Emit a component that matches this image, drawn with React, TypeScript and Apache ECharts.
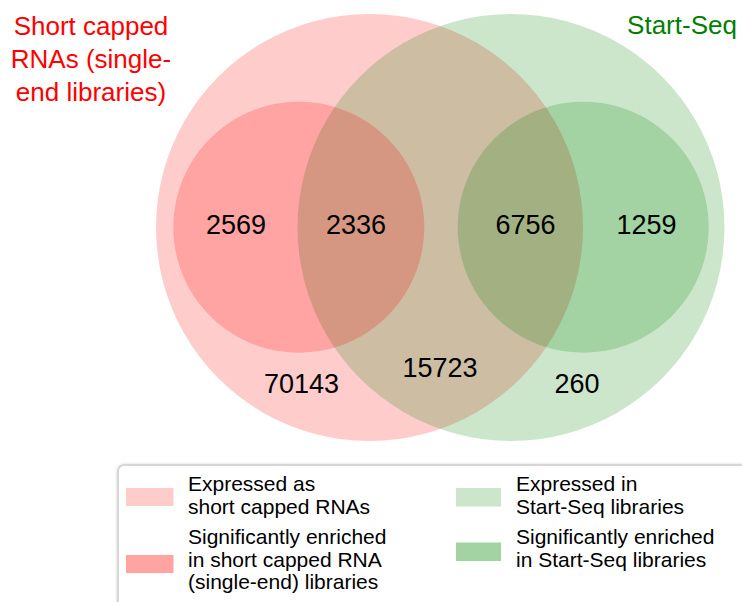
import React, { useEffect, useRef } from "react";
import * as echarts from "echarts";

// ---- data ----
const setNames = ["Short capped\nRNAs (single-\nend libraries)", "Start-Seq"];
const regionLabels = [
  "onlyRedEnriched",
  "redEnrichedShared",
  "greenEnrichedShared",
  "onlyGreenEnriched",
  "onlyRed",
  "shared",
  "onlyGreen",
];
const regionCounts = [2569, 2336, 6756, 1259, 70143, 15723, 260];
const legendLabels = [
  "Expressed as\nshort capped RNAs",
  "Significantly enriched\nin short capped RNA\n(single-end) libraries",
  "Expressed in\nStart-Seq libraries",
  "Significantly enriched\nin Start-Seq libraries",
];

// ---- layout / style ----
const FONT = "'Liberation Sans', Arial, sans-serif";
const RED = "rgba(255,0,0,0.2)";
const GREEN = "rgba(0,128,0,0.2)";
const circles = [
  { cx: 369.5, cy: 227.5, r: 213.5, fill: RED },
  { cx: 511, cy: 227.5, r: 213.5, fill: GREEN },
  { cx: 298.8, cy: 227.2, r: 125.5, fill: RED },
  { cx: 583.2, cy: 227.2, r: 125.5, fill: GREEN },
];
const regionPos = [
  [236, 225],
  [356, 225],
  [525.5, 225],
  [646.5, 225],
  [301.5, 384],
  [440, 368],
  [577, 384],
];
const legendSwatch = [
  { x: 126, y: 488, w: 47.5, h: 18, fill: "#FFCCCC" },
  { x: 126, y: 555, w: 47.5, h: 18, fill: "#FFA3A3" },
  { x: 456, y: 488, w: 45, h: 18.5, fill: "#CCE6CC" },
  { x: 456, y: 542.5, w: 45, h: 18.5, fill: "#A3D2A3" },
];
const legendTextPos = [
  [188, 483.5],
  [188, 536.5],
  [516, 483.5],
  [516, 536.5],
];

export default function App() {
  const ref = useRef<HTMLDivElement>(null);
  useEffect(() => {
    if (!ref.current) return;
    const chart = echarts.init(ref.current, null, { renderer: "svg" });
    const g: any[] = [];
    circles.forEach((c) =>
      g.push({
        type: "circle",
        shape: { cx: c.cx, cy: c.cy, r: c.r },
        style: { fill: c.fill },
        silent: true,
      })
    );
    regionCounts.forEach((v, i) =>
      g.push({
        type: "text",
        style: {
          text: String(v),
          x: regionPos[i][0],
          y: regionPos[i][1],
          fill: "#000",
          fontSize: 27,
          fontFamily: FONT,
          align: "center",
          textAlign: "center",
          verticalAlign: "middle",
          textVerticalAlign: "middle",
        },
        silent: true,
      })
    );
    // set titles
    setNames[0].split("\n").forEach((line, i) =>
      g.push({
        type: "text",
        style: {
          text: line,
          x: 91,
          y: 25.5 + i * 33,
          fill: "#FF0000",
          fontSize: 26,
          fontFamily: FONT,
          align: "center",
          textAlign: "center",
          verticalAlign: "middle",
          textVerticalAlign: "middle",
        },
      })
    );
    g.push({
      type: "text",
      style: {
        text: setNames[1],
        x: 682,
        y: 25,
        fill: "#008000",
        fontSize: 26,
        fontFamily: FONT,
        align: "center",
        textAlign: "center",
        verticalAlign: "middle",
        textVerticalAlign: "middle",
      },
    });
    // legend box
    g.push({
      type: "rect",
      shape: { x: 118, y: 465, width: 700, height: 200, r: 6 },
      style: {
        fill: "#fff",
        stroke: "#D6D6D6",
        lineWidth: 2,
        shadowBlur: 3,
        shadowColor: "rgba(0,0,0,0.15)",
      },
    });
    legendSwatch.forEach((s) =>
      g.push({
        type: "rect",
        shape: { x: s.x, y: s.y, width: s.w, height: s.h },
        style: { fill: s.fill },
      })
    );
    legendLabels.forEach((t, i) =>
      t.split("\n").forEach((line, j) =>
        g.push({
          type: "text",
          style: {
            text: line,
            x: legendTextPos[i][0],
            y: legendTextPos[i][1] + j * 22.7,
            fill: "#000",
            fontSize: 21,
            fontFamily: FONT,
            align: "left",
            textAlign: "left",
            verticalAlign: "middle",
            textVerticalAlign: "middle",
          },
        })
      )
    );
    chart.setOption({
      animation: false,
      backgroundColor: "#fff",
      graphic: { elements: g },
    });
    return () => chart.dispose();
  }, []);
  return (
    <div
      ref={ref}
      style={{ position: "absolute", left: 0, top: 0, width: 742, height: 602 }}
    />
  );
}
